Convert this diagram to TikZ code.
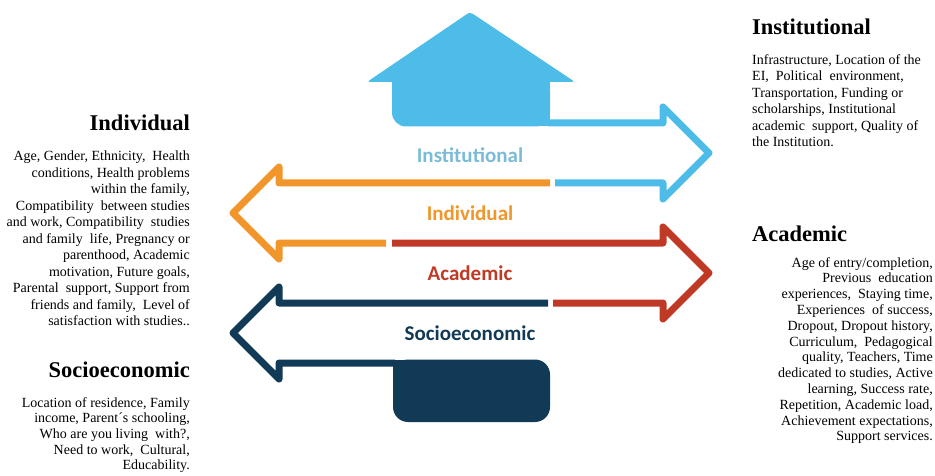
\documentclass[tikz,border=0pt]{standalone}
\usepackage{fontspec}
\setmainfont{Liberation Serif}
\newfontfamily\bandfont{Carlito}
\usetikzlibrary{positioning}

\definecolor{instblue}{RGB}{77,188,233}
\definecolor{indorange}{RGB}{240,150,42}
\definecolor{acadred}{RGB}{192,57,36}
\definecolor{socnavy}{RGB}{16,58,86}

\tikzset{
  band/.style={line width=7pt, line join=round},
  bandlabel/.style={font=\bandfont\bfseries\fontsize{21}{24}\selectfont},
  headtext/.style={font=\bfseries\fontsize{22.5}{26}\selectfont, inner sep=0pt},
  bodytext/.style={font=\fontsize{14}{16.5}\selectfont, inner sep=0pt},
}

\begin{document}
\begin{tikzpicture}[x=1pt,y=-1pt]
  \useasboundingbox (0,0) rectangle (935,476);

  % House on top (institutional)
  \fill[instblue, rounded corners=3pt] (367,82) -- (470,12) -- (575,82) -- cycle;
  \fill[instblue, rounded corners=14pt] (392,76) rectangle (550,126.5);
  \fill[instblue] (392,76) rectangle (420,100);
  \fill[instblue] (520,76) rectangle (550,126.5);

  % Institutional arrow (right)
  \draw[band, instblue] (555,183) -- (663,183) -- (663,199) -- (709,153) -- (663,107) -- (663,123) -- (548,123);

  % Individual arrow (left)
  \draw[band, indorange] (550,183) -- (279,183) -- (279,167) -- (233,213) -- (279,259) -- (279,243) -- (386,243);

  % Academic arrow (right)
  \draw[band, acadred] (392,243) -- (663,243) -- (663,227) -- (709,273) -- (663,319) -- (663,303) -- (553,303);

  % Socioeconomic arrow (left) with base
  \draw[band, socnavy] (548,303) -- (279,303) -- (279,287) -- (233,333) -- (279,379) -- (279,363) -- (395,363);
  \fill[socnavy, rounded corners=15pt] (393,359.5) rectangle (550,422);
  \fill[socnavy] (393,359.5) rectangle (420,380);

  % Band labels
  \node[bandlabel, text=instblue!85!black!70!white] (instlabel) at (470,155) {Institutional};
  \node[bandlabel, text=indorange] (indlabel) at (470,213) {Individual};
  \node[bandlabel, text=acadred] (acadlabel) at (470,273) {Academic};
  \node[bandlabel, text=socnavy] (soclabel) at (470,333) {Socioeconomic};

  % Individual factors
  \node[headtext, anchor=east] (indhead) at (190,123) {Individual};
  \node[bodytext, anchor=north east, align=right] (indbody) at (190,151) {Age, Gender, Ethnicity,\ \ Health\\
    conditions, Health problems\\
    within the family,\\
    Compatibility\ \ between studies\\
    and work, Compatibility\ \ studies\\
    and family\ \ life, Pregnancy or\\
    parenthood, Academic\\
    motivation, Future goals,\\
    Parental\ \ support, Support from\\
    friends and family,\ \ Level of\\
    satisfaction with studies..};

  % Socioeconomic factors
  \node[headtext, anchor=east] (sochead) at (190,370) {Socioeconomic};
  \node[bodytext, font=\fontsize{14}{15.7}\selectfont, anchor=north east, align=right] (socbody) at (190,397) {Location of residence, Family\\
    income, Parent´s schooling,\\
    Who are you living\ \ with?,\\
    Need to work,\ \ Cultural,\\
    Educability.};

  % Institutional factors
  \node[headtext, anchor=west] (insthead) at (752,27) {Institutional};
  \node[bodytext, anchor=north west, align=left] (instbody) at (752,54) {Infrastructure, Location of the\\
    EI,\ \ Political\ \ environment,\\
    Transportation, Funding or\\
    scholarships, Institutional\\
    academic\ \ support, Quality of\\
    the Institution.};

  % Academic factors
  \node[headtext, anchor=west] (acadhead) at (752,234) {Academic};
  \node[bodytext, font=\fontsize{14}{15.8}\selectfont, anchor=north east, align=right] (acadbody) at (933,257) {Age of entry/completion,\\
    Previous\ \ education\\
    experiences,\ \ Staying time,\\
    Experiences\ \ of success,\\
    Dropout, Dropout history,\\
    Curriculum,\ \ Pedagogical\\
    quality, Teachers, Time\\
    dedicated to studies, Active\\
    learning, Success rate,\\
    Repetition, Academic load,\\
    Achievement expectations,\\
    Support services.};
\end{tikzpicture}
\end{document}
